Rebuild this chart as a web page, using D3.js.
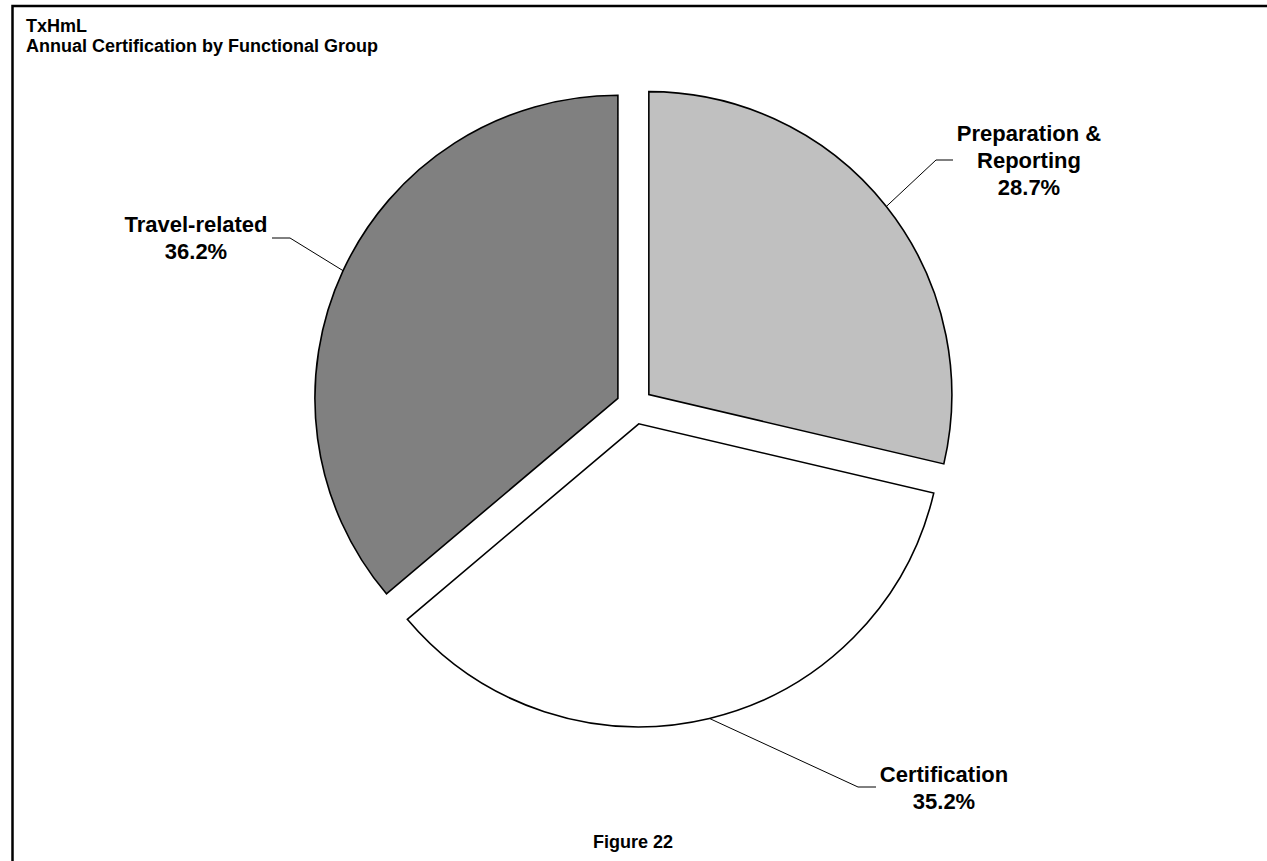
<!DOCTYPE html>
<html>
<head>
<meta charset="utf-8">
<script src="https://cdn.jsdelivr.net/npm/d3@7"></script>
<style>
  body { margin: 0; background: #fff; }
  text { font-family: "Liberation Sans", Arial, sans-serif; font-weight: bold; fill: #000; }
</style>
</head>
<body>
<div class="pie-chart"></div>
<script>
// Chart data
var categories = ["Preparation & Reporting", "Certification", "Travel-related"];
var shares = [28.7, 35.2, 36.2];
var labelLines = [["Preparation &", "Reporting"], ["Certification"], ["Travel-related"]];
var sliceColors = ["#c0c0c0", "#ffffff", "#808080"];

// Size
var svgWidth = 1267;
var svgHeight = 861;

// Pie geometry
var cx = 634.5, cy = 406;
var radius = 303;
var explode = 18.3;

// where each label block sits (center x, first baseline) and its leader elbow
var labelLayout = [
  { x: 1029, y: 141, elbowX: 936, elbowY: 160, endX: 953 },
  { x: 944, y: 782, elbowX: 858, elbowY: 787, endX: 876 },
  { x: 196, y: 232, elbowX: 290, elbowY: 238, endX: 272 }
];

var svg = d3.select(".pie-chart")
  .append("svg")
  .attr("width", svgWidth)
  .attr("height", svgHeight);

// outer frame
svg.append("rect")
  .attr("x", 12.5)
  .attr("y", 6)
  .attr("width", svgWidth)
  .attr("height", svgHeight)
  .attr("fill", "none")
  .attr("stroke", "#000")
  .attr("stroke-width", 2.5);

// titles
svg.append("text").attr("x", 26).attr("y", 32).style("font-size", "18px").text("TxHmL");
svg.append("text").attr("x", 26).attr("y", 52).style("font-size", "18px").text("Annual Certification by Functional Group");

svg.append("text")
  .attr("x", 633)
  .attr("y", 848)
  .attr("text-anchor", "middle")
  .style("font-size", "18px")
  .text("Figure 22");

var pie = d3.pie().sort(null).value(d => d);
var arcs = pie(shares);

var arc = d3.arc().innerRadius(0).outerRadius(radius);

var chartGroup = svg.append("g")
  .attr("transform", `translate(${cx}, ${cy})`);

// slices, each pulled out along its middle angle
chartGroup.selectAll("path")
  .data(arcs)
  .enter()
  .append("path")
  .attr("d", arc)
  .attr("transform", function(d) {
    var mid = (d.startAngle + d.endAngle) / 2;
    return `translate(${explode * Math.sin(mid)}, ${-explode * Math.cos(mid)})`;
  })
  .attr("fill", (d, i) => sliceColors[i])
  .attr("stroke", "#000")
  .attr("stroke-width", 1.6)
  .attr("stroke-linejoin", "miter");

// leader lines + labels
arcs.forEach(function(d, i) {
  var mid = (d.startAngle + d.endAngle) / 2;
  var sx = cx + (explode + radius) * Math.sin(mid);
  var sy = cy - (explode + radius) * Math.cos(mid);
  var L = labelLayout[i];
  svg.append("polyline")
    .attr("points", `${sx},${sy} ${L.elbowX},${L.elbowY} ${L.endX},${L.elbowY}`)
    .attr("fill", "none")
    .attr("stroke", "#000")
    .attr("stroke-width", 1);

  var t = svg.append("text")
    .attr("x", L.x)
    .attr("y", L.y)
    .attr("text-anchor", "middle")
    .style("font-size", "22px");
  var lines = labelLines[i].concat([shares[i].toFixed(1) + "%"]);
  lines.forEach(function(line, j) {
    t.append("tspan")
      .attr("x", L.x)
      .attr("dy", j === 0 ? 0 : 27)
      .text(line);
  });
});
</script>
</body>
</html>
